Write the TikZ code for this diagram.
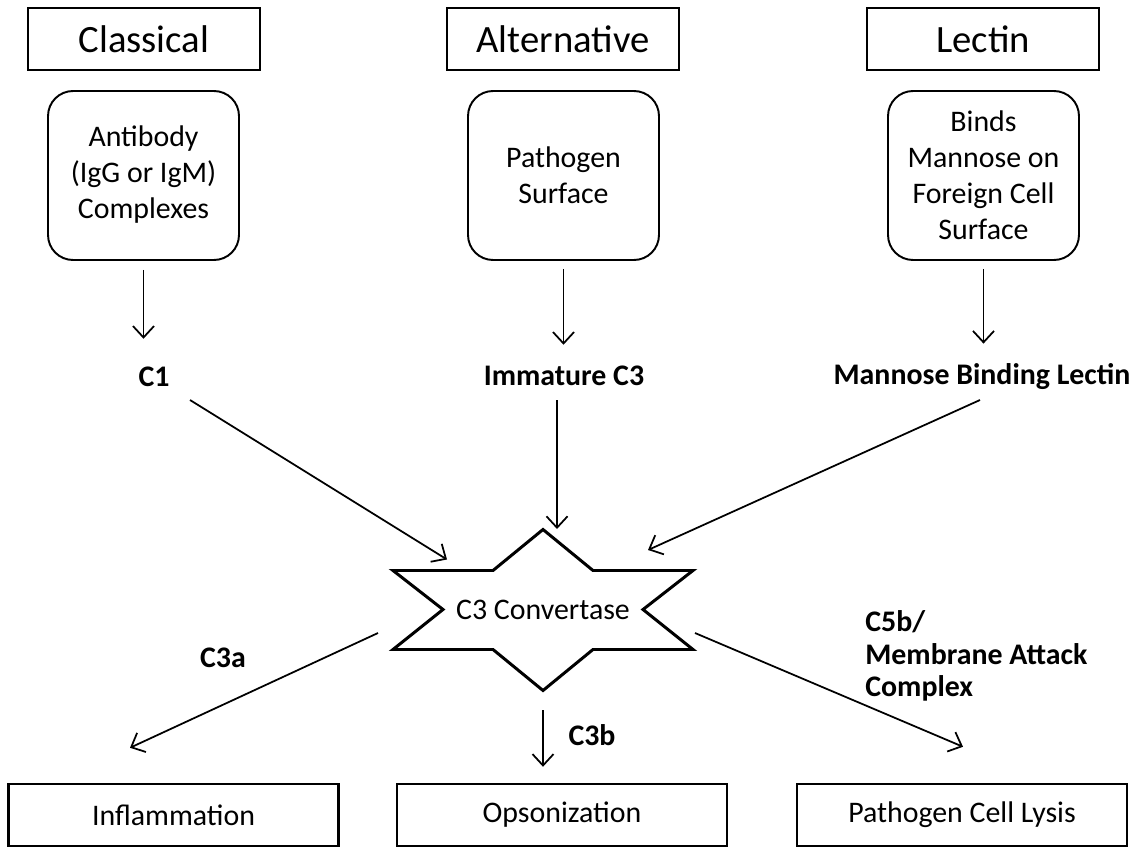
\documentclass[tikz,border=0pt]{standalone}
\usepackage{fontspec}
\setmainfont{Carlito}
\usetikzlibrary{calc,positioning,arrows.meta}

\tikzset{
	headbox/.style={draw, line width=1.5pt, minimum width=4.64cm, minimum height=1.24cm, inner sep=0pt, font=\fontsize{22}{26}\selectfont},
	srcbox/.style={draw, line width=1.1pt, rounded corners=0.5cm, minimum width=3.82cm, minimum height=3.38cm, inner sep=0pt, align=center, font=\fontsize{17}{20.4}\selectfont},
	lbl/.style={inner sep=0pt, font=\fontsize{17}{20.4}\selectfont\bfseries},
	endbox/.style={draw, line width=1.4pt, minimum width=6.6cm, minimum height=1.24cm, inner sep=0pt, font=\fontsize{17}{20.4}\selectfont},
	arr/.style={-{Straight Barb[length=6.5pt,width=12pt]}, line width=1pt},
	starline/.style={line width=1.7pt, line join=miter}
}

\begin{document}
\begin{tikzpicture}[x=0.02cm, y=-0.02cm]
			%%%%% START %%%%%
			\useasboundingbox (0,0) rectangle (1133,848);
			
			% pathways
			\node[headbox] (hcls) at (144,39) {Classical};
			\node[headbox] (halt) at (563,39) {Alternative};
			\node[headbox] (hlec) at (983,39) {Lectin};
			
			\node[srcbox] (cls) at (143.5,175.5) {\raisebox{-5pt}{\begin{tabular}{@{}c@{}}Antibody\\(IgG or IgM)\\Complexes\end{tabular}}};
			\node[srcbox] (alt) at (563.5,175.5) {Pathogen\\Surface};
			\node[srcbox] (lec) at (983.5,175.5) {Binds\\Mannose on\\Foreign Cell\\Surface};
			
			\node[lbl] (c1) at (154,377) {C1};
			\node[lbl] (imm) at (564,376) {Immature C3};
			\node[lbl] (mbl) at (982,377) {Mannose Binding Lectin};
			
			\draw[arr, shorten <=0.18cm, shorten >=0.56cm] (cls.south) -- (cls.south |- c1.north);
			\draw[arr, shorten <=0.16cm, shorten >=0.42cm] (alt.south) -- (alt.south |- imm.north);
			\draw[arr, shorten <=0.16cm, shorten >=0.40cm] (lec.south) -- (lec.south |- mbl.north);
			
			% convertase
			\node[font=\fontsize{17}{20.4}\selectfont, inner sep=0pt] (conv) at (543,609.5) {C3 Convertase};
			\draw[starline, shift={(conv.center)}] (0,-80) -- (50,-39) -- (150,-39) -- (100,0) -- (150,40) -- (50,40) -- (0,81) -- (-50,40) -- (-150,40) -- (-100,0) -- (-150,-39) -- (-50,-39) -- cycle;
			
			\draw[arr] ($(c1)+(36,23)$) -- ($(conv)+(-96,-50)$);
			\draw[arr] ($(imm)+(-7,24)$) -- ($(conv)+(14,-80.5)$);
			\draw[arr] ($(mbl)+(-2,23)$) -- ($(conv)+(105,-59.5)$);
			
			% products
			\node[endbox] (inf) at (173.5,815) {Inflammation};
			\node[endbox] (ops) at (562,815) {Opsonization};
			\node[endbox] (lys) at (962,815) {Pathogen Cell Lysis};
			
			\node[lbl] (c3a) at (223,658) {C3a};
			\node[lbl] (c3b) at (592,735) {C3b};
			\node[lbl, align=left, anchor=west, font=\fontsize{17}{18.7}\selectfont\bfseries] (c5b) at (865,656) {C5b/\\Membrane Attack\\Complex};
			
			\draw[arr] ($(conv)+(-165,23.5)$) -- ($(inf.north)+(-43.5,-35)$);
			\draw[arr] ($(conv)+(0,100.5)$) -- ($(ops.north)+(-19,-16)$);
			\draw[arr] ($(conv)+(152,23.5)$) -- ($(lys.north)+(1,-36)$);
			%%%%% END %%%%%
\end{tikzpicture}
\end{document}
